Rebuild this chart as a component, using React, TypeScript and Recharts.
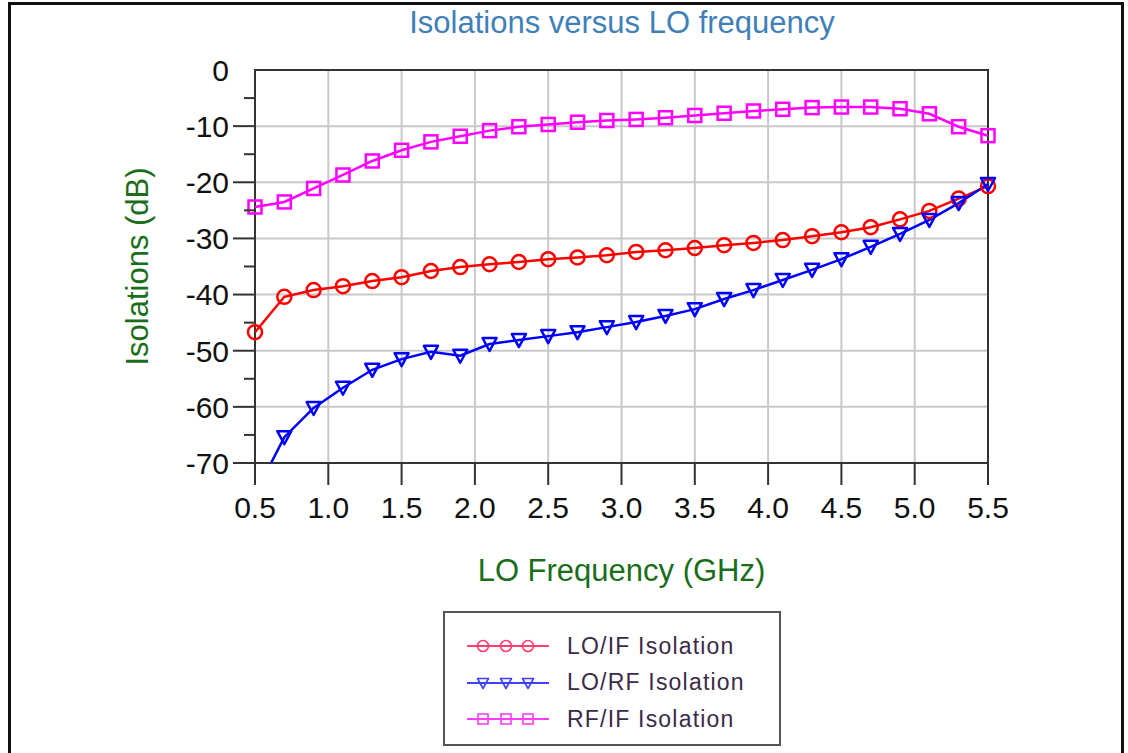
import React from "react";
import {
  LineChart,
  Line,
  CartesianGrid,
  XAxis,
  YAxis,
  ReferenceArea,
} from "recharts";

const FREQ = [
  0.5, 0.7, 0.9, 1.1, 1.3, 1.5, 1.7, 1.9, 2.1, 2.3, 2.5, 2.7, 2.9, 3.1, 3.3,
  3.5, 3.7, 3.9, 4.1, 4.3, 4.5, 4.7, 4.9, 5.1, 5.3, 5.5,
];

const LO_IF = [
  -46.7, -40.4, -39.2, -38.5, -37.6, -36.9, -35.8, -35.1, -34.6, -34.2, -33.7,
  -33.4, -33.0, -32.4, -32.1, -31.7, -31.2, -30.8, -30.3, -29.6, -28.9, -28.0,
  -26.6, -25.1, -22.9, -20.7,
];

const LO_RF = [
  -75.6, -65.4, -60.2, -56.6, -53.4, -51.5, -50.2, -50.9, -48.8, -48.1, -47.4,
  -46.7, -45.8, -44.9, -43.8, -42.6, -40.8, -39.2, -37.4, -35.6, -33.7, -31.5,
  -29.2, -26.7, -23.7, -20.3,
];

const RF_IF = [
  -24.4, -23.5, -21.1, -18.7, -16.2, -14.3, -12.8, -11.8, -10.8, -10.1, -9.7,
  -9.3, -9.0, -8.8, -8.5, -8.1, -7.7, -7.3, -7.0, -6.7, -6.6, -6.6, -6.9, -7.8,
  -10.1, -11.7,
];

const X_TICKS = [0.5, 1.0, 1.5, 2.0, 2.5, 3.0, 3.5, 4.0, 4.5, 5.0, 5.5];
const Y_TICKS = [
  0, -5, -10, -15, -20, -25, -30, -35, -40, -45, -50, -55, -60, -65, -70,
];
const Y_GRID = [0, -10, -20, -30, -40, -50, -60, -70];

const SERIES = [
  { key: "loIf", name: "LO/IF Isolation", color: "#ff0000", legend: "#ff3d6e", shape: "circle" },
  { key: "loRf", name: "LO/RF Isolation", color: "#0000ff", legend: "#4040ff", shape: "triangle" },
  { key: "rfIf", name: "RF/IF Isolation", color: "#ff00ff", legend: "#ff3dff", shape: "square" },
] as const;

const data = FREQ.map((f, i) => ({
  f,
  loIf: LO_IF[i],
  loRf: LO_RF[i],
  rfIf: RF_IF[i],
}));

const FONT = "'Liberation Sans', Arial, sans-serif";

function Marker({ cx, cy, shape, color, size = 7, sw = 2.5 }: any) {
  if (cx == null || cy == null) return null;
  if (shape === "circle")
    return <circle cx={cx} cy={cy} r={size} fill="none" stroke={color} strokeWidth={sw} />;
  if (shape === "square")
    return (
      <rect
        x={cx - size + 0.5}
        y={cy - size + 0.5}
        width={size * 2 - 1}
        height={size * 2 - 1}
        fill="none"
        stroke={color}
        strokeWidth={sw}
      />
    );
  return (
    <polygon
      points={`${cx - size},${cy - size + 1} ${cx + size},${cy - size + 1} ${cx},${cy + size}`}
      fill="none"
      stroke={color}
      strokeWidth={sw}
      strokeLinejoin="round"
    />
  );
}

function YTick({ x, y, payload }: any) {
  const v = payload.value;
  const major = v % 10 === 0;
  return (
    <g>
      {v !== 0 && (
        <line x1={x - (major ? 22 : 11)} x2={x} y1={y} y2={y} stroke="#333" strokeWidth={2} />
      )}
      {major && (
        <text x={x - 26} y={y} dy="0.36em" textAnchor="end" fontSize={30} fill="#111" fontFamily={FONT}>
          {v}
        </text>
      )}
    </g>
  );
}

function XTick({ x, y, payload }: any) {
  return (
    <g>
      <line x1={x} x2={x} y1={y} y2={y + 22} stroke="#333" strokeWidth={2} />
      <text x={x} y={y + 34} dy="0.71em" textAnchor="middle" fontSize={30} fill="#111" fontFamily={FONT}>
        {payload.value.toFixed(1)}
      </text>
    </g>
  );
}

function YTitle({ viewBox }: any) {
  const cx = 137;
  const cy = viewBox.y + viewBox.height / 2;
  return (
    <text
      x={cx}
      y={cy}
      transform={`rotate(-90 ${cx} ${cy})`}
      textAnchor="middle"
      dominantBaseline="central"
      fontSize={31}
      fill="#1a6e1a"
      fontFamily={FONT}
    >
      Isolations (dB)
    </text>
  );
}

function XTitle({ viewBox }: any) {
  return (
    <text
      x={viewBox.x + viewBox.width / 2}
      y={570}
      textAnchor="middle"
      dominantBaseline="central"
      fontSize={31}
      fill="#1a6e1a"
      fontFamily={FONT}
    >
      LO Frequency (GHz)
    </text>
  );
}

export default function App() {
  return (
    <div
      style={{
        position: "absolute",
        left: 0,
        top: 0,
        width: 1128,
        height: 753,
        background: "#fff",
        overflow: "hidden",
      }}
    >
      <div
        style={{
          position: "absolute",
          left: 8,
          top: 2,
          width: 1110,
          height: 800,
          border: "3px solid #111",
        }}
      />
      <div
        style={{
          position: "absolute",
          left: 322,
          top: 7,
          width: 600,
          textAlign: "center",
          fontFamily: FONT,
          fontSize: 31,
          lineHeight: "31px",
          color: "#3f80b8",
        }}
      >
        Isolations versus LO frequency
      </div>
      <div style={{ position: "absolute", left: 0, top: 0 }}>
        <LineChart
          width={1128}
          height={753}
          data={data}
          margin={{ top: 70, right: 140, left: 0, bottom: 230 }}
        >
          <CartesianGrid
            stroke="#c8c8c8"
            strokeWidth={2}
            horizontalValues={Y_GRID}
            verticalValues={X_TICKS}
          />
          <XAxis
            dataKey="f"
            type="number"
            domain={[0.5, 5.5]}
            ticks={X_TICKS}
            interval={0}
            height={60}
            axisLine={false}
            tickLine={false}
            tickSize={0}
            tickMargin={0}
            tick={<XTick />}
            label={<XTitle />}
          />
          <YAxis
            type="number"
            domain={[-70, 0]}
            ticks={Y_TICKS}
            interval={0}
            allowDataOverflow
            width={255}
            axisLine={false}
            tickLine={false}
            tickSize={0}
            tickMargin={0}
            tick={<YTick />}
            label={<YTitle />}
          />
          {SERIES.map((s) => (
            <Line
              key={s.key}
              type="linear"
              dataKey={s.key}
              stroke={s.color}
              strokeWidth={2.5}
              isAnimationActive={false}
              dot={(p: any) => (
                <Marker key={`${s.key}-${p.index}`} cx={p.cx} cy={p.cy} shape={s.shape} color={s.color} />
              )}
              activeDot={false}
            />
          ))}
          <ReferenceArea
            x1={0.5}
            x2={5.5}
            y1={-70}
            y2={0}
            fill="none"
            stroke="#333"
            strokeWidth={2}
            ifOverflow="visible"
          />
        </LineChart>
      </div>
      <div
        style={{
          position: "absolute",
          left: 443,
          top: 611,
          width: 334,
          height: 131,
          border: "2px solid #555",
          fontFamily: FONT,
        }}
      >
        {SERIES.map((s, i) => (
          <div
            key={s.key}
            style={{
              position: "absolute",
              left: 0,
              top: 15 + i * 36.5,
              height: 36,
              display: "flex",
              alignItems: "center",
            }}
          >
            <svg width={102} height={36} style={{ marginLeft: 20 }}>
              <line x1={2} x2={84} y1={18} y2={18} stroke={s.legend} strokeWidth={2} />
              {[18, 41, 63].map((mx) => (
                <Marker key={mx} cx={mx} cy={18} shape={s.shape} color={s.legend} size={5.5} sw={1.6} />
              ))}
            </svg>
            <span style={{ fontSize: 23, letterSpacing: 1.2, color: "#3b2a48", whiteSpace: "nowrap" }}>
              {s.name}
            </span>
          </div>
        ))}
      </div>
    </div>
  );
}
